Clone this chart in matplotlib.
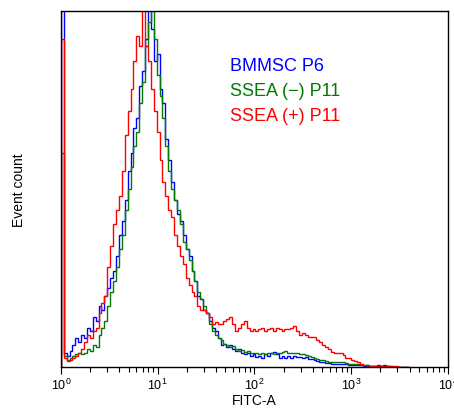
import numpy as np
import matplotlib
matplotlib.use("Agg")
from matplotlib import pyplot as plt

plt.rcParams['font.family'] = ['Liberation Sans', 'DejaVu Sans']

# histogram bins: log10(FITC-A) from 0 in steps of 0.03 decades
bin_step = 0.03

labels = ["BMMSC P6", "SSEA (\u2212) P11", "SSEA (+) P11"]
colors = ["#0000ff", "#007a00", "#ff0000"]

# event counts, % of axis height (peaks run off the top)
blue = [110, 4, 3, 4.5, 6, 8, 7, 9, 8, 11,
        10, 14, 13, 17, 16, 20, 22, 25, 27, 31,
        37, 41, 47, 55, 60, 67, 70, 79, 83, 92,
        105, 95, 86, 88, 78, 74, 64, 58, 52, 47,
        43, 41, 37, 33, 31, 27, 24, 20, 19, 16,
        15, 13, 11, 10, 8, 6, 6.5, 5.5, 6, 5,
        4.5, 5, 4, 3.5, 4, 3, 3.5, 2.8, 3, 2.5,
        3.5, 3, 3.8, 4.2, 3.5, 2.5, 3, 2.5, 3, 2.5,
        3, 2.7, 2.8, 2.5, 2.8, 2.3, 2.2, 2, 1.5, 1.4,
        1.2, 1.0, 1.1, 0.9, 0.8, 0.8, 0.8, 0.7, 0.7, 0.6,
        0.6, 0.5, 0.5, 0.4, 0.3, 0.3, 0.3, 0.3, 0.3, 0.4,
        0.3, 0.6, 0.3, 0.2, 0, 0, 0, 0, 0, 0]
green = [60, 3, 2, 2.5, 3, 3.5, 4, 3.5, 4, 5,
         4.5, 6, 5.5, 9, 11, 13, 17, 21, 24, 28,
         33, 37, 44, 50, 56, 62, 66, 74, 80, 90,
         97, 105, 92, 82, 76, 70, 62, 55, 50, 47,
         44, 40, 35, 33, 30, 27, 24, 21, 19, 17,
         15, 12, 10, 9, 8, 7.5, 6.5, 6, 5.5, 5.8,
         5, 4.5, 4.8, 4.2, 4.5, 4, 3.8, 4, 3.6, 3.9,
         3.5, 3.8, 4, 3.6, 3.8, 4, 4.2, 4.5, 4, 3.8,
         4, 3.8, 3.6, 3.5, 3.3, 3, 2.8, 2.5, 2.2, 2,
         1.8, 1.6, 1.4, 1.4, 1.3, 1.4, 1.3, 1.2, 1.0, 0.9,
         0.8, 0.8, 0.7, 0.6, 0.5, 0.4, 0.3, 0.3, 0.3, 0.3,
         0.2, 0.2, 0.2, 0, 0, 0, 0, 0, 0, 0]
red = [92, 2.5, 1.5, 2, 2.5, 3, 4, 5, 7, 9,
       8, 10, 11, 15, 18, 20, 28, 34, 40, 44,
       48, 55, 65, 72, 78, 86, 93, 90, 105, 90,
       86, 78, 72, 66, 58, 52, 48, 44, 42, 37,
       34, 31, 29, 25, 23, 21, 20, 17, 16, 16,
       15, 14, 12, 12.5, 12, 12, 13, 13.5, 14, 12,
       10, 11, 12, 13, 11, 10, 10.5, 10, 10.5, 11,
       10, 10.5, 11, 10, 11, 10.5, 10, 10.5, 10.5, 11,
       11.5, 10, 9, 9.5, 9, 8.5, 8.5, 8.5, 7.5, 7,
       6, 5.5, 5, 4.2, 4, 4, 3.8, 3.2, 2.5, 2.4,
       2, 1.5, 1.2, 0.8, 0.6, 0.5, 0.3, 0.3, 0.3, 0.3,
       0.3, 0.3, 0.2, 0.2, 0.2, 0.2, 0, 0, 0, 0]

fig = plt.figure(figsize=(4.54, 4.10), dpi=100)
ax = fig.add_axes([0.134, 0.103, 0.853, 0.868])

for counts, c in zip([blue, green, red], colors):
    edges = 10 ** (bin_step * np.arange(len(counts) + 1))
    ax.stairs(counts, edges, baseline=0, color=c, lw=1.0)

ax.set_xscale('log')
ax.set_xlim(1, 1e4)
ax.set_ylim(0, 100)
ax.set_yticks([])
ax.tick_params(axis='x', which='major', direction='out', length=5, width=0.8,
               labelsize=9, pad=2)
ax.tick_params(axis='x', which='minor', direction='out', length=3.5, width=0.8)
for s in ax.spines.values():
    s.set_linewidth(1.0)

ax.set_xlabel("FITC-A", fontsize=10, labelpad=1)
ax.set_ylabel("Event count", fontsize=10, labelpad=25)

for k, (lab, c) in enumerate(zip(labels, colors)):
    ax.text(0.438, 0.834 - k * 0.07, lab, color=c, fontsize=13,
            transform=ax.transAxes, va='baseline', ha='left')

fig.savefig("out.png", dpi=100)
